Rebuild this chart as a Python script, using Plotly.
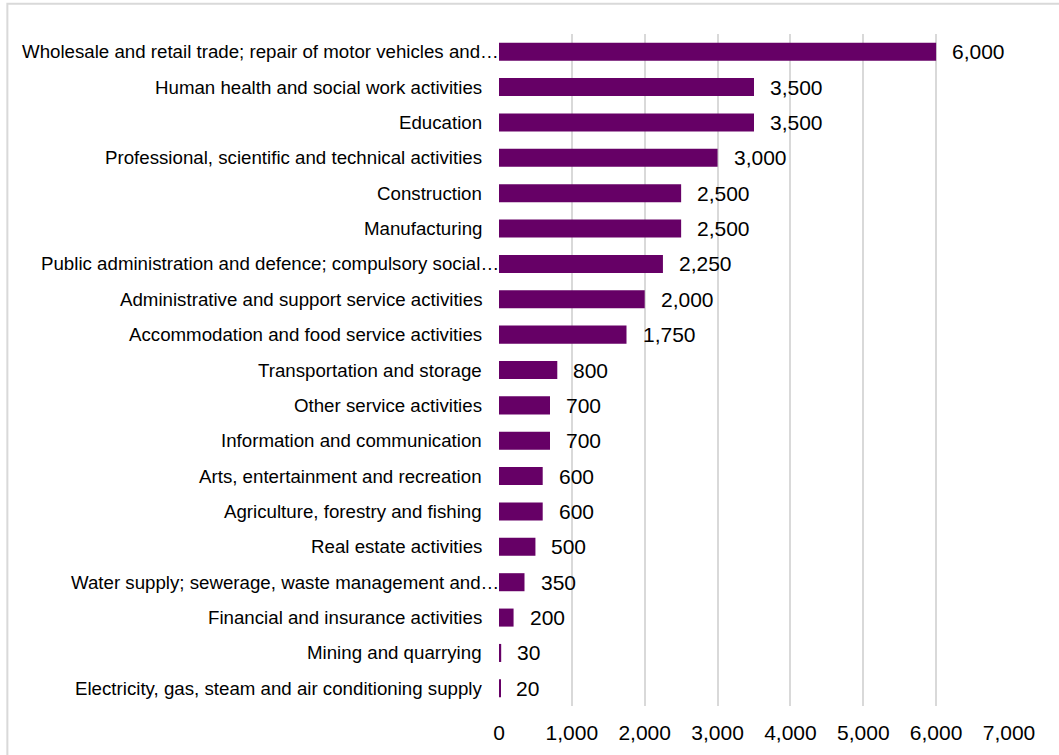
import plotly.graph_objects as go

# Industry sections, largest first (top of chart)
industries = [
    "Wholesale and retail trade; repair of motor vehicles and…",
    "Human health and social work activities",
    "Education",
    "Professional, scientific and technical activities",
    "Construction",
    "Manufacturing",
    "Public administration and defence; compulsory social…",
    "Administrative and support service activities",
    "Accommodation and food service activities",
    "Transportation and storage",
    "Other service activities",
    "Information and communication",
    "Arts, entertainment and recreation",
    "Agriculture, forestry and fishing",
    "Real estate activities",
    "Water supply; sewerage, waste management and…",
    "Financial and insurance activities",
    "Mining and quarrying",
    "Electricity, gas, steam and air conditioning supply",
]
counts = [6000, 3500, 3500, 3000, 2500, 2500, 2250, 2000, 1750,
          800, 700, 700, 600, 600, 500, 350, 200, 30, 20]
x_ticks = [0, 1000, 2000, 3000, 4000, 5000, 6000, 7000]

FONT = "Liberation Sans, Arial, sans-serif"
BAR = "#660066"

fig = go.Figure(
    go.Bar(
        x=counts,
        y=industries,
        orientation="h",
        marker=dict(color=BAR, line=dict(width=0)),
        hoverinfo="x+y",
    )
)

annotations = []
# value labels to the right of each bar
for name, v in zip(industries, counts):
    annotations.append(dict(
        x=v, y=name, xref="x", yref="y", text=f"{v:,}",
        showarrow=False, xanchor="left", yanchor="middle", xshift=14,
        font=dict(family=FONT, size=21, color="#000000"),
    ))
# category labels on the left; truncated names run up to the axis
for name in industries:
    truncated = name.endswith("…")
    annotations.append(dict(
        x=0, y=name, xref="x", yref="y", text=name,
        showarrow=False, xanchor="right", yanchor="middle",
        xshift=2 if truncated else -15,
        font=dict(family=FONT, size=18.7, color="#000000"),
    ))

fig.update_layout(
    width=1059, height=755,
    margin=dict(l=499, r=50, t=34, b=49),
    paper_bgcolor="white", plot_bgcolor="white",
    bargap=0.49,
    showlegend=False,
    font=dict(family=FONT, color="#000000"),
    annotations=annotations,
    shapes=[dict(
        type="rect", xref="paper", yref="paper",
        x0=-0.964, x1=1.2, y0=-0.2, y1=1.045,
        line=dict(color="#d9d9d9", width=2), fillcolor="rgba(0,0,0,0)",
        layer="below",
    )],
)
fig.update_xaxes(
    range=[0, 7000], tickvals=x_ticks,
    ticktext=[f"{t:,}" for t in x_ticks],
    showgrid=True, gridcolor="#d9d9d9", gridwidth=2,
    zeroline=False, showline=False, ticks="",
    ticklabelstandoff=12,
    tickfont=dict(family=FONT, size=21, color="#000000"),
)
fig.update_yaxes(
    autorange="reversed", showticklabels=False,
    showgrid=False, zeroline=False, showline=False, ticks="",
)

fig.write_html("out.html")
